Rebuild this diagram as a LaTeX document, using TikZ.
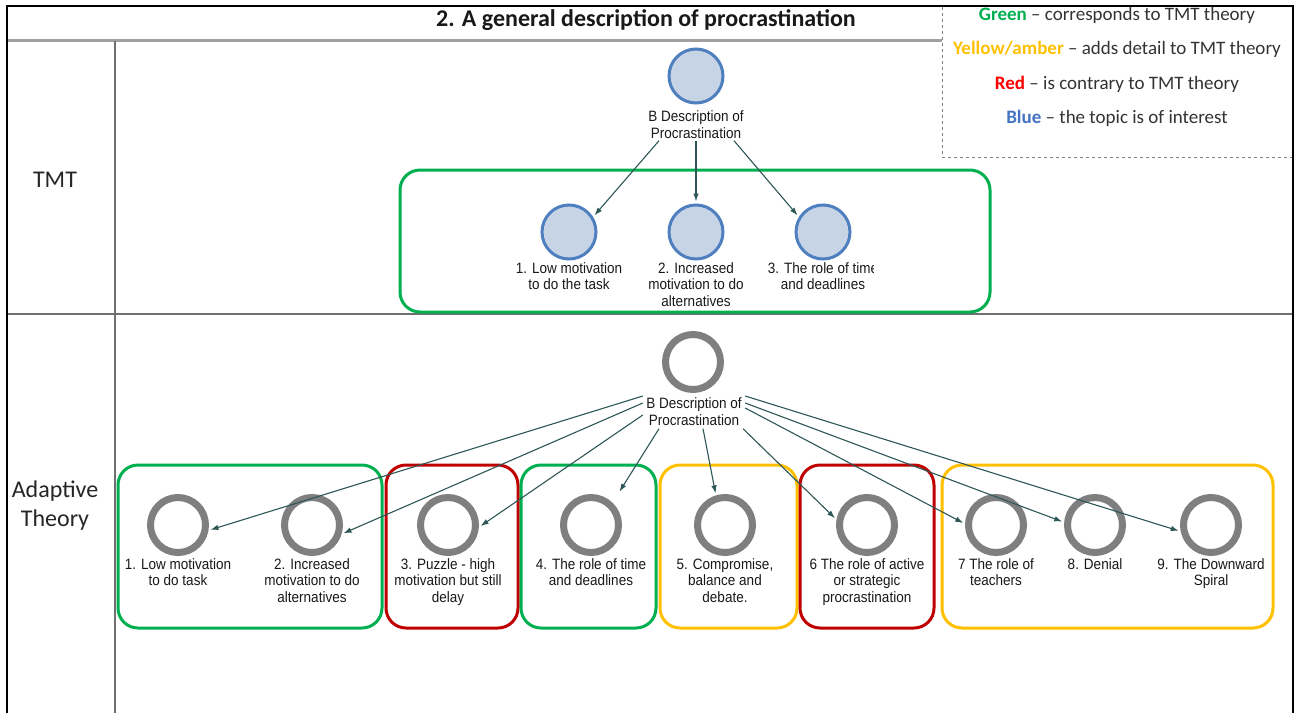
\documentclass[tikz,border=0pt]{standalone}
\usepackage{fontspec}
\setmainfont{Carlito}
\newfontfamily\nodefont[FakeStretch=0.9]{Liberation Sans}
\usetikzlibrary{arrows.meta}

\definecolor{tmtgreen}{HTML}{00B050}
\definecolor{amber}{HTML}{FFC000}
\definecolor{boxred}{HTML}{C00000}
\definecolor{legred}{HTML}{FF0000}
\definecolor{legblue}{HTML}{4472C4}
\definecolor{edgecol}{HTML}{2F5757}
\definecolor{ringgray}{HTML}{7F7F7F}
\definecolor{blueline}{HTML}{4F7FBF}
\definecolor{bluefill}{HTML}{C6D4E6}
\definecolor{ruleline}{HTML}{707070}
\definecolor{headline}{HTML}{A0A0A0}
\definecolor{legtext}{HTML}{333333}

\begin{document}
\begin{tikzpicture}[x=1pt,y=-1pt,
  bluenode/.style={circle,draw=blueline,fill=bluefill,line width=3pt,minimum size=54pt,inner sep=0pt},
  ringnode/.style={circle,draw=ringgray,fill=white,line width=7pt,minimum size=55pt,inner sep=0pt},
  lbl/.style={font=\nodefont\fontsize{15}{16.5}\selectfont,align=center,inner sep=0pt,text=black!90},
  grpbox/.style={rounded corners=20pt,line width=3pt},
  arr/.style={draw=edgecol,line width=1.1pt,-{Latex[length=8pt,width=5.5pt]},shorten >=2pt},
  tableline/.style={line width=1.5pt,draw=ruleline},
  legline/.style={font=\fontsize{19}{22}\selectfont,text=legtext,inner sep=0pt},
  sidelbl/.style={font=\fontsize{24}{29}\selectfont,align=center,inner sep=0pt,text=black!85},
  ]
\useasboundingbox (0,0) rectangle (1299,713);
\fill[white] (0,0) rectangle (1299,713);

% ---------- table frame ----------
\draw[line width=2pt,black] (7,713) -- (7,6) -- (1293,6) -- (1293,713);
\draw[line width=3pt,draw=headline] (8,40) -- (942,40);
\draw[tableline] (8,314) -- (1292,314);
\draw[tableline] (115,41) -- (115,713);
\draw[line width=1pt,draw=gray,dashed] (942,7) -- (942,157) -- (1292,157);

% ---------- title and legend ----------
\node[font=\bfseries\fontsize{24}{28}\selectfont,text=black!90] (title) at (646,20) {2. A general description of procrastination};
\node[legline] (legG) at (1117,15) {\textcolor{tmtgreen}{\textbf{Green}} -- corresponds to TMT theory};
\node[legline] (legY) at (1117,49) {\textcolor{amber}{\textbf{Yellow/amber}} -- adds detail to TMT theory};
\node[legline] (legR) at (1117,84) {\textcolor{legred}{\textbf{Red}} -- is contrary to TMT theory};
\node[legline] (legB) at (1117,118) {\textcolor{legblue}{\textbf{Blue}} -- the topic is of interest};

% ---------- row headings ----------
\node[sidelbl] (rowTMT) at (55,180) {TMT};
\node[sidelbl] (rowAdapt) at (55,506) {Adaptive\\Theory};

% ---------- TMT row ----------
\draw[grpbox,tmtgreen] (400,170) rectangle (990,312);

\node[bluenode] (t0) at (696,76) {};
\node[lbl,minimum width=100pt,minimum height=32pt] (t0l) at (696,124.5) {B Description of\\Procrastination};

\node[bluenode] (t1) at (569,232) {};
\node[bluenode] (t2) at (696,232) {};
\node[bluenode] (t3) at (823,232) {};
\node[lbl,anchor=north] (t1l) at (569,262) {1. Low motivation\\to do the task};
\node[lbl,anchor=north] (t2l) at (696,262) {2. Increased\\motivation to do\\alternatives};
% the third caption is cut off at the right edge of its label area
\begin{scope}
  \clip (760,255) rectangle (873,300);
  \node[lbl,anchor=north] (t3l) at (823,262) {3. The role of time\\and deadlines};
\end{scope}

\draw[arr] ([xshift=-37pt]t0l.south) -- (t1.32);
\draw[arr] (t0l.south) -- (t2.90);
\draw[arr] ([xshift=38pt]t0l.south) -- (t3.148);

% ---------- Adaptive Theory row ----------
\draw[grpbox,tmtgreen] (118,465) rectangle (382,628);
\draw[grpbox,boxred]   (386,465) rectangle (518,628);
\draw[grpbox,tmtgreen] (521,465) rectangle (656,628);
\draw[grpbox,amber]    (660,465) rectangle (797,628);
\draw[grpbox,boxred]   (800,465) rectangle (934,628);
\draw[grpbox,amber]    (942,465) rectangle (1273,628);

\node[ringnode] (a0) at (693,362) {};
\node[lbl,minimum width=102pt,minimum height=34pt] (a0l) at (694,411.5) {B Description of\\Procrastination};

\node[ringnode] (a1) at (178,525) {};
\node[ringnode] (a2) at (312,525) {};
\node[ringnode] (a3) at (448,525) {};
\node[ringnode] (a4) at (591,525) {};
\node[ringnode] (a5) at (725,525) {};
\node[ringnode] (a6) at (867,525) {};
\node[ringnode] (a7) at (996,525) {};
\node[ringnode] (a8) at (1095,525) {};
\node[ringnode] (a9) at (1211,525) {};

\node[lbl,anchor=north] (a1l) at (178,558) {1. Low motivation\\to do task};
\node[lbl,anchor=north] (a2l) at (312,558) {2. Increased\\motivation to do\\alternatives};
\node[lbl,anchor=north] (a3l) at (448,558) {3. Puzzle - high\\motivation but still\\delay};
\node[lbl,anchor=north] (a4l) at (591,558) {4. The role of time\\and deadlines};
\node[lbl,anchor=north] (a5l) at (725,558) {5. Compromise,\\balance and\\debate.};
\node[lbl,anchor=north] (a6l) at (867,558) {6 The role of active\\or strategic\\procrastination};
\node[lbl,anchor=north] (a7l) at (996,558) {7 The role of\\teachers};
\node[lbl,anchor=north] (a8l) at (1095,558) {8. Denial};
\node[lbl,anchor=north] (a9l) at (1211,558) {9. The Downward\\Spiral};

\draw[arr] ([yshift=15.5pt]a0l.west) -- (a1.-10);
\draw[arr] ([yshift=8.5pt]a0l.west)  -- (a2.-17);
\draw[arr] ([yshift=-3.5pt]a0l.west) -- (a3.-4);
\draw[arr,shorten >=13pt] ([xshift=-35pt]a0l.south) -- (a4.46);
\draw[arr] ([xshift=9pt]a0l.south)   -- (a5.107);
\draw[arr] ([xshift=49pt]a0l.south)  -- (a6.170);
\draw[arr] ([yshift=3.5pt]a0l.east)  -- (a7.178);
\draw[arr] ([yshift=8.5pt]a0l.east)  -- (a8.175);
\draw[arr] ([yshift=15.5pt]a0l.east) -- (a9.192);

\end{tikzpicture}
\end{document}
